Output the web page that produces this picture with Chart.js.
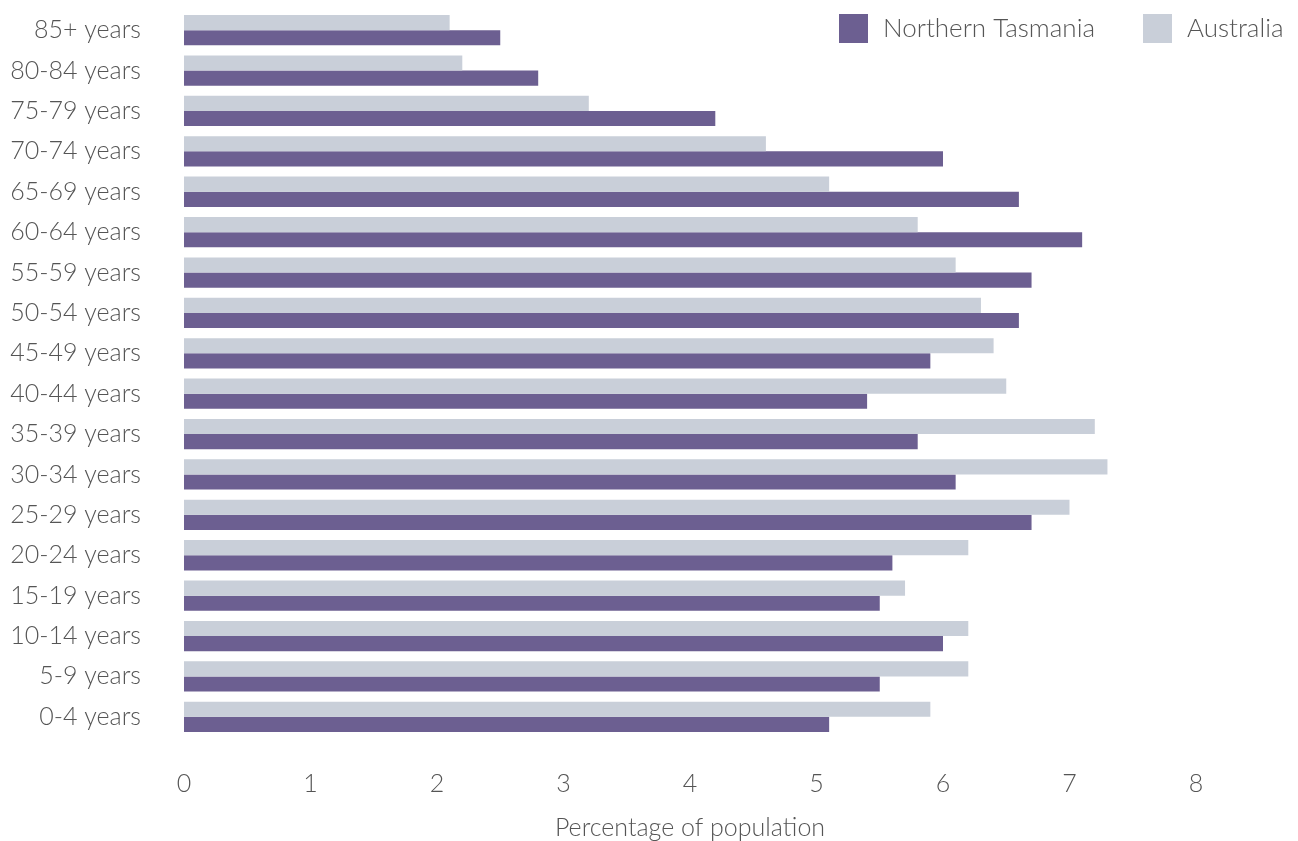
<!DOCTYPE html>
<html>
<head>
<meta charset="utf-8">
<script src="https://cdn.jsdelivr.net/npm/chart.js@4.4.1/dist/chart.umd.min.js"></script>
<style>
    html, body { margin: 0; padding: 0; background: #fff; }
    #wrap { width: 1298px; height: 841px; }
</style>
</head>
<body>
<div id="wrap"><canvas id="ageChart" width="1298" height="841"></canvas></div>
<script>
// Age groups, top to bottom as they appear on the chart
const ageGroups = [
    '85+ years', '80-84 years', '75-79 years', '70-74 years', '65-69 years',
    '60-64 years', '55-59 years', '50-54 years', '45-49 years', '40-44 years',
    '35-39 years', '30-34 years', '25-29 years', '20-24 years', '15-19 years',
    '10-14 years', '5-9 years', '0-4 years'
];

// Percentage of population in each age group
const australia = [2.1, 2.2, 3.2, 4.6, 5.1, 5.8, 6.1, 6.3, 6.4, 6.5, 7.2, 7.3, 7.0, 6.2, 5.7, 6.2, 6.2, 5.9];
const northernTasmania = [2.5, 2.8, 4.2, 6.0, 6.6, 7.1, 6.7, 6.6, 5.9, 5.4, 5.8, 6.1, 6.7, 5.6, 5.5, 6.0, 5.5, 5.1];

const xTicks = [0, 1, 2, 3, 4, 5, 6, 7, 8];

const purple = '#6c5f91';
const grey = '#c9cfd9';
const textColor = '#555555';
const fontFamily = "'Lato', 'Open Sans', sans-serif";

// Legend drawn by hand, Northern Tasmania first, sitting over the top right corner
const cornerLegend = {
    id: 'cornerLegend',
    afterDraw(chart) {
        const ctx = chart.ctx;
        const items = [
            { label: 'Northern Tasmania', color: purple, x: 839 },
            { label: 'Australia', color: grey, x: 1143 }
        ];
        ctx.save();
        ctx.font = '300 26px ' + fontFamily;
        ctx.textBaseline = 'middle';
        items.forEach(item => {
            ctx.fillStyle = item.color;
            ctx.fillRect(item.x, 14, 29, 29);
            ctx.fillStyle = textColor;
            ctx.fillText(item.label, item.x + 44, 29);
        });
        ctx.restore();
    }
};

new Chart(document.getElementById('ageChart').getContext('2d'), {
    type: 'bar',
    data: {
        labels: ageGroups,
        datasets: [
            {
                label: 'Australia',
                data: australia,
                backgroundColor: grey,
                borderWidth: 0,
                categoryPercentage: 0.75,
                barPercentage: 1.0
            },
            {
                label: 'Northern Tasmania',
                data: northernTasmania,
                backgroundColor: purple,
                borderWidth: 0,
                categoryPercentage: 0.75,
                barPercentage: 1.0
            }
        ]
    },
    options: {
        indexAxis: 'y',
        responsive: false,
        animation: false,
        layout: {
            padding: { left: 0, right: 102, top: 10, bottom: 0 }
        },
        scales: {
            x: {
                min: 0,
                max: 8,
                grid: { display: false },
                border: { display: false },
                afterBuildTicks: function(scale) {
                    scale.ticks = xTicks.map(v => ({ value: v }));
                },
                afterFit: function(scale) {
                    scale.height = 104;
                    scale.paddingLeft = 0;
                    scale.paddingRight = 0;
                },
                ticks: {
                    padding: 24,
                    color: textColor,
                    font: { family: fontFamily, size: 25, weight: '300' }
                },
                title: {
                    display: true,
                    text: 'Percentage of population',
                    color: textColor,
                    padding: { top: 10, bottom: -2 },
                    font: { family: fontFamily, size: 25, weight: '300' }
                }
            },
            y: {
                grid: { display: false },
                border: { display: false },
                afterFit: function(scale) {
                    scale.width = 184;
                    scale.paddingTop = 0;
                    scale.paddingBottom = 0;
                },
                ticks: {
                    padding: 35,
                    color: textColor,
                    font: { family: fontFamily, size: 25, weight: '300' }
                }
            }
        },
        plugins: {
            legend: { display: false },
            tooltip: { enabled: false }
        }
    },
    plugins: [cornerLegend]
});
</script>
</body>
</html>
